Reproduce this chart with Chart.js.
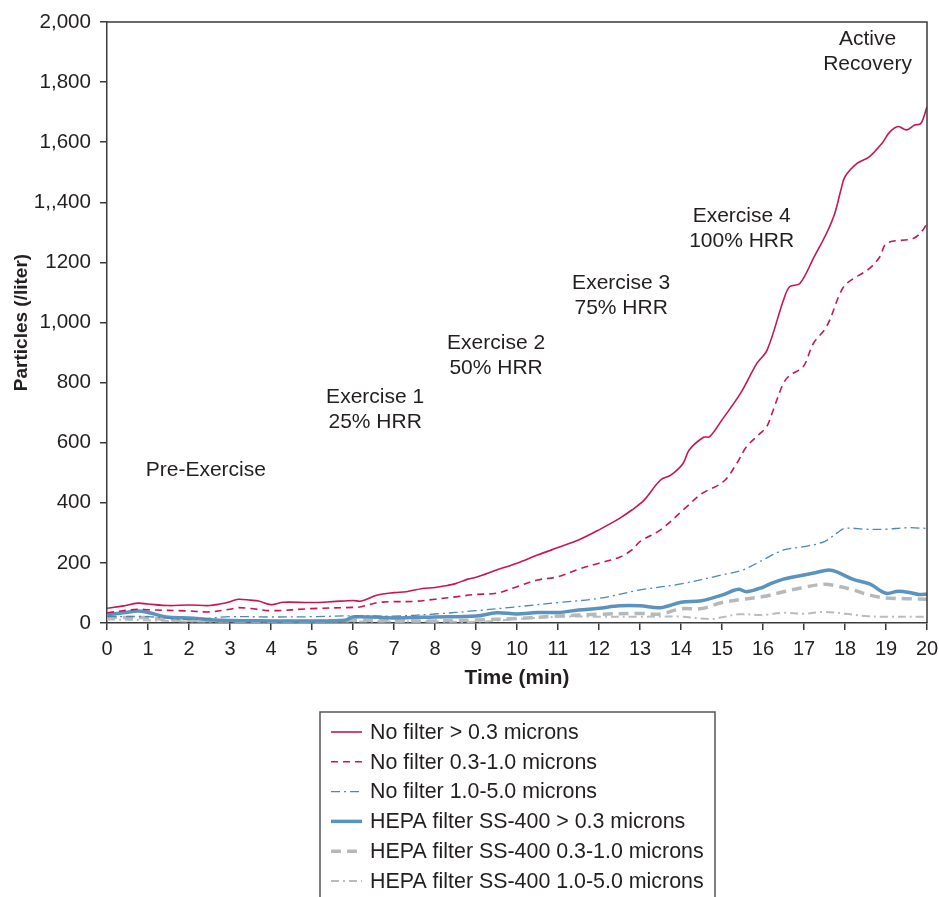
<!DOCTYPE html>
<html>
<head>
<meta charset="utf-8">
<script src="https://cdn.jsdelivr.net/npm/chart.js@4.4.1/dist/chart.umd.min.js"></script>
<style>
  html, body { margin: 0; padding: 0; background: #fff; }
  #wrap { width: 939px; height: 897px; position: relative; }
</style>
</head>
<body>
<div id="wrap"><canvas id="chart"></canvas></div>
<script>
// time (min) and particle counts (/liter)
const tNoFilter03 = [0, 0.4, 0.75, 1, 1.5, 2, 2.5, 2.75, 3, 3.2, 3.5, 3.7, 4, 4.3, 5, 5.5, 6, 6.2, 6.6, 7, 7.3, 7.7, 8, 8.3, 8.5, 8.8, 9, 9.5, 10, 10.5, 11, 11.5, 12, 12.5, 12.8, 13.1, 13.5, 13.75, 14.05, 14.2, 14.55, 14.7, 15, 15.45, 15.85, 16.1, 16.5, 16.65, 16.9, 17.25, 17.55, 17.75, 17.9, 18, 18.3, 18.6, 18.9, 19.1, 19.3, 19.5, 19.7, 19.85, 20]
const vNoFilter03 = [49, 57, 66, 63, 58, 60, 58, 63, 71, 79, 76, 73, 61, 69, 68, 71, 75, 73, 93, 101, 104, 115, 118, 125, 131, 146, 152, 176, 199, 226, 251, 276, 310, 348, 376, 409, 476, 492, 531, 576, 618, 620, 676, 764, 864, 908, 1075, 1119, 1130, 1219, 1297, 1363, 1441, 1485, 1530, 1552, 1596, 1635, 1652, 1641, 1657, 1662, 1718]

const tNoFilter0310 = [0, 0.75, 1, 2, 2.5, 3, 3.2, 3.5, 4, 5, 6, 6.2, 6.6, 7, 7.5, 8, 8.5, 9, 9.5, 10, 10.5, 11, 11.5, 12, 12.5, 12.8, 13, 13.5, 14.14, 14.5, 15.03, 15.36, 15.6, 15.93, 16.09, 16.25, 16.5, 16.66, 16.98, 17.23, 17.55, 17.88, 18.04, 18.6, 18.85, 19.02, 19.67, 19.9, 20]
const vNoFilter0310 = [34, 46, 44, 40, 37, 46, 51, 48, 41, 48, 52, 54, 68, 71, 72, 79, 87, 95, 99, 121, 143, 154, 179, 199, 219, 243, 271, 310, 387, 430, 470, 531, 587, 631, 653, 709, 798, 825, 853, 931, 986, 1097, 1130, 1180, 1219, 1264, 1280, 1308, 1330]

const tNoFilter1050 = [0, 1, 2, 3, 4, 5, 6, 7, 8, 9, 10, 11, 12, 13, 14, 15, 15.5, 16, 16.5, 17, 17.5, 17.8, 18, 18.5, 19, 19.5, 20]
const vNoFilter1050 = [21, 21, 12, 21, 20, 21, 24, 23, 30, 41, 54, 68, 82, 110, 130, 160, 176, 210, 243, 254, 271, 299, 315, 312, 312, 317, 315]

const tHepa03 = [0, 0.5, 0.75, 1, 1.5, 2, 2.5, 3, 4, 5, 5.8, 6, 7, 8, 9, 9.5, 10, 10.5, 11, 11.5, 12, 12.5, 13, 13.5, 14, 14.5, 15, 15.4, 15.6, 16, 16.2, 16.5, 17, 17.3, 17.6, 17.8, 18.2, 18.6, 19, 19.3, 19.6, 19.8, 20]
const vHepa03 = [27, 36, 40, 35, 19, 17, 11, 8, 7, 7, 9, 20, 17, 20, 23, 34, 30, 35, 35, 43, 49, 57, 57, 51, 69, 74, 93, 112, 104, 119, 132, 146, 160, 168, 176, 170, 145, 130, 99, 106, 101, 95, 96]

const tHepa0310 = [0, 0.5, 1, 1.5, 2, 3, 4, 5, 6, 7, 8, 9, 10, 11, 12, 13, 13.5, 14, 14.5, 15, 15.5, 16, 16.5, 17, 17.5, 17.8, 18.2, 18.6, 19, 19.5, 20]
const vHepa0310 = [21, 18, 18, 11, 9, 7, 5, 5, 9, 7, 7, 10, 15, 23, 29, 32, 30, 47, 48, 68, 79, 88, 104, 119, 129, 123, 110, 93, 83, 81, 79]

const tHepa1050 = [0, 1, 2, 3, 4, 5, 6, 7, 8, 9, 10, 11, 12, 13, 14, 14.7, 15, 15.4, 16, 16.5, 17, 17.5, 18, 18.5, 19, 20]
const vHepa1050 = [12, 9, 5, 5, 5, 5, 5, 5, 5, 4, 13, 21, 21, 21, 21, 13, 19, 29, 27, 34, 31, 37, 31, 23, 21, 21]

const seriesNames = [
  'No filter > 0.3 microns',
  'No filter 0.3-1.0 microns',
  'No filter 1.0-5.0 microns',
  'HEPA filter SS-400 > 0.3 microns',
  'HEPA filter SS-400 0.3-1.0 microns',
  'HEPA filter SS-400 1.0-5.0 microns'
]

// y tick labels as printed (typos included)
const yTickLabels = ['0', '200', '400', '600', '800', '1,000', '1200', '1,,400', '1,600', '1,800', '2,000']

// phase labels: [time, value, line1, line2]
const phaseLabels = [
  [2.41, 509, 'Pre-Exercise', ''],
  [6.54, 752, 'Exercise 1', '25% HRR'],
  [9.49, 932, 'Exercise 2', '50% HRR'],
  [12.54, 1131, 'Exercise 3', '75% HRR'],
  [15.48, 1354, 'Exercise 4', '100% HRR'],
  [18.55, 1943, 'Active', 'Recovery']
]

const FONT = '"Liberation Sans", Arial, Helvetica, sans-serif'
const INK = '#231f20'
const AXIS = '#3a3a3a'

function pts(ts, vs) {
  return ts.map((t, i) => ({ x: t, y: vs[i] }))
}

const datasets = [
  { label: seriesNames[0], data: pts(tNoFilter03, vNoFilter03), borderColor: '#c8164f', borderWidth: 1.6 },
  { label: seriesNames[1], data: pts(tNoFilter0310, vNoFilter0310), borderColor: '#c8164f', borderWidth: 1.6, borderDash: [7, 5] },
  { label: seriesNames[2], data: pts(tNoFilter1050, vNoFilter1050), borderColor: '#4a88b6', borderWidth: 1.3, borderDash: [9, 4, 2, 4] },
  { label: seriesNames[3], data: pts(tHepa03, vHepa03), borderColor: '#5b93bf', borderWidth: 3.5 },
  { label: seriesNames[4], data: pts(tHepa0310, vHepa0310), borderColor: '#b6b9bb', borderWidth: 3.5, borderDash: [10, 6] },
  { label: seriesNames[5], data: pts(tHepa1050, vHepa1050), borderColor: '#b9bbbd', borderWidth: 2, borderDash: [8, 4, 2, 4] }
].map(d => Object.assign({ pointRadius: 0, tension: 0.35, fill: false }, d))

// frame on top/right, phase text, and the boxed legend below the plot
const extras = {
  id: 'extras',
  afterDatasetsDraw(chart) {
    const ctx = chart.ctx
    const a = chart.chartArea
    const x = chart.scales.x
    const y = chart.scales.y
    ctx.save()
    ctx.strokeStyle = AXIS
    ctx.lineWidth = 1.5
    ctx.beginPath()
    ctx.moveTo(a.left, a.top)
    ctx.lineTo(a.right, a.top)
    ctx.lineTo(a.right, a.bottom)
    ctx.stroke()

    ctx.fillStyle = INK
    ctx.font = '21px ' + FONT
    ctx.textAlign = 'center'
    ctx.textBaseline = 'middle'
    phaseLabels.forEach(p => {
      const px = x.getPixelForValue(p[0])
      const py = y.getPixelForValue(p[1])
      ctx.fillText(p[2], px, py)
      if (p[3]) ctx.fillText(p[3], px, py + 25)
    })

    // legend
    const lx = 320, ly = 712, lw = 395, rowH = 29.8
    ctx.strokeStyle = '#555'
    ctx.lineWidth = 1.5
    ctx.beginPath()
    ctx.moveTo(lx, chart.height + 5)
    ctx.lineTo(lx, ly)
    ctx.lineTo(lx + lw, ly)
    ctx.lineTo(lx + lw, chart.height + 5)
    ctx.stroke()
    ctx.font = '21.4px ' + FONT
    ctx.textAlign = 'left'
    chart.data.datasets.forEach((d, i) => {
      const cy = ly + 20 + i * rowH
      ctx.strokeStyle = d.borderColor
      ctx.lineWidth = d.borderWidth
      ctx.setLineDash(d.borderDash || [])
      ctx.beginPath()
      ctx.moveTo(lx + 11, cy)
      ctx.lineTo(lx + 42, cy)
      ctx.stroke()
      ctx.setLineDash([])
      ctx.fillStyle = INK
      ctx.fillText(d.label, lx + 50, cy + 1)
    })
    ctx.restore()
  }
}

new Chart(document.getElementById('chart'), {
  type: 'line',
  data: { datasets },
  options: {
    responsive: true,
    maintainAspectRatio: false,
    animation: false,
    layout: { padding: { top: 22, right: 12, left: 0, bottom: 204 } },
    plugins: { legend: { display: false }, tooltip: { enabled: false } },
    scales: {
      x: {
        type: 'linear',
        min: 0,
        max: 20,
        ticks: { stepSize: 1, color: INK, font: { family: FONT, size: 20 }, padding: 7, maxRotation: 0 },
        grid: { drawOnChartArea: false, drawTicks: true, tickLength: 7, color: AXIS, lineWidth: 1.5 },
        border: { color: AXIS, width: 1.5 },
        title: { display: true, text: 'Time (min)', color: INK, font: { family: FONT, size: 20.8, weight: 'bold' }, padding: { top: 0, bottom: 2 } },
        afterFit(s) { s.height = 70; s.paddingLeft = 0; s.paddingRight = 0 }
      },
      y: {
        min: 0,
        max: 2000,
        ticks: {
          stepSize: 200,
          color: INK,
          font: { family: FONT, size: 20.6 },
          padding: 9,
          callback: v => yTickLabels[Math.round(v / 200)]
        },
        grid: { drawOnChartArea: false, drawTicks: true, tickLength: 7, color: AXIS, lineWidth: 1.5 },
        border: { color: AXIS, width: 1.5 },
        title: { display: true, text: 'Particles (/liter)', color: INK, font: { family: FONT, size: 19, weight: 'bold' }, padding: { top: 10, bottom: 0 } },
        afterFit(s) { s.width = 107; s.paddingTop = 0; s.paddingBottom = 0 }
      }
    }
  },
  plugins: [extras]
})
</script>
</body>
</html>
